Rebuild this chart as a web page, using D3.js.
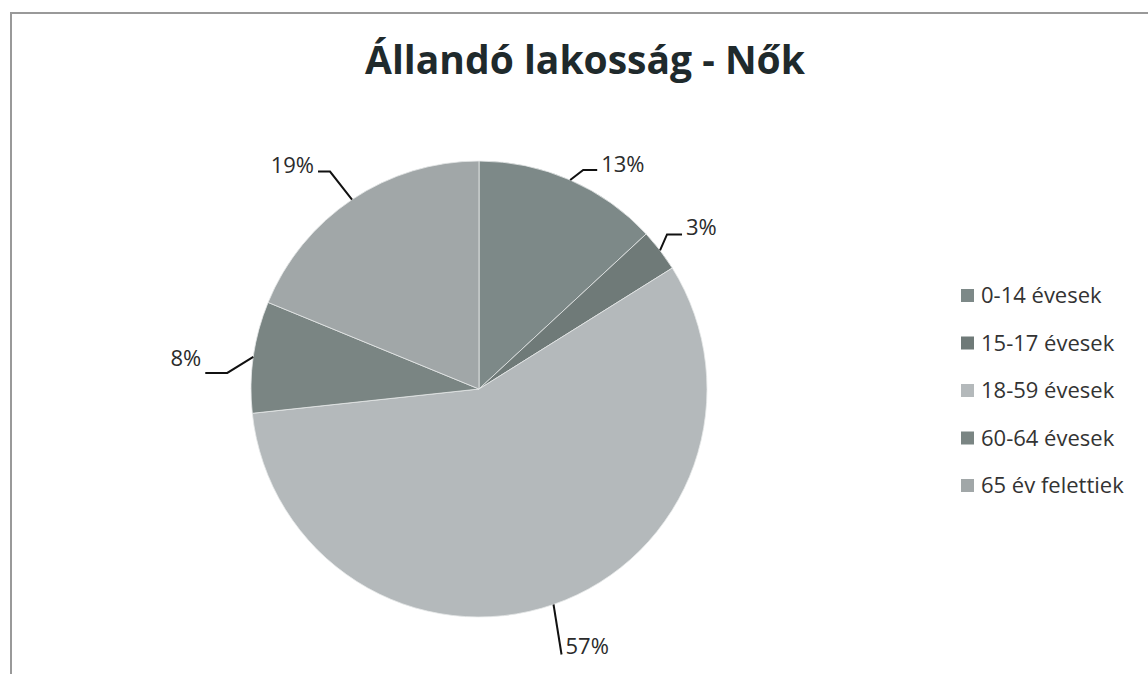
<!DOCTYPE html>
<html>
<head>
<meta charset="utf-8">
<script src="https://cdn.jsdelivr.net/npm/d3@7"></script>
<style>
  body { margin: 0; background: #fff; }
  svg { display: block; }
</style>
</head>
<body>
<div id="chart"></div>
<script>
const title = 'Állandó lakosság - Nők';
const categories = ['0-14 évesek', '15-17 évesek', '18-59 évesek', '60-64 évesek', '65 év felettiek'];
const values = [13.1, 3.0, 57.2, 7.9, 18.8];
const colors = ['#7d8988', '#6f7a78', '#b4b9bb', '#7a8583', '#a1a7a8'];

// leader layout per slice: elbow offset from the rim point, horizontal run, text baseline shift
const labelLayout = [
  { elbow: [13, -10], run: 14, dy: 2 },
  { elbow: [7, -16], run: 15, dy: 1 },
  { elbow: [8, 50], run: 0, dy: 0 },
  { elbow: [-26, 16], run: -22, dy: -7 },
  { elbow: [-22, -28], run: -12, dy: 1 }
];

const width = 1148;
const height = 674;
const cx = 479;
const cy = 389;
const radius = 228;
const font = '"Open Sans", "Noto Sans", sans-serif';

const svg = d3.select('#chart')
  .append('svg')
  .attr('width', width)
  .attr('height', height);

// chart frame (top and left edges visible in the scan)
svg.append('path')
  .attr('d', `M11,${height} L11,13 L${width},13`)
  .attr('fill', 'none')
  .attr('stroke', '#999')
  .attr('stroke-width', 2);

svg.append('text')
  .attr('x', 585)
  .attr('y', 74)
  .attr('text-anchor', 'middle')
  .style('font-family', font)
  .style('font-weight', 700)
  .style('font-size', '39px')
  .attr('fill', '#1f2a2c')
  .text(title);

const total = d3.sum(values);
const pie = d3.pie().sort(null).value(d => d)(values);
const arc = d3.arc().innerRadius(0).outerRadius(radius);
const rim = d3.arc().innerRadius(radius).outerRadius(radius);

const g = svg.append('g')
  .attr('transform', `translate(${cx},${cy})`);

g.selectAll('path.slice')
  .data(pie)
  .enter()
  .append('path')
  .attr('class', 'slice')
  .attr('d', arc)
  .attr('fill', (d, i) => colors[i])
  .attr('stroke', '#e6e9e9')
  .attr('stroke-width', 0.8);

const fmt = d => Math.round(d / total * 100) + '%';

pie.forEach((d, i) => {
  const lay = labelLayout[i];
  const p0 = rim.centroid(d);
  const p1 = [p0[0] + lay.elbow[0], p0[1] + lay.elbow[1]];
  const p2 = [p1[0] + lay.run, p1[1]];
  g.append('path')
    .attr('d', d3.line()([p0, p1, p2]))
    .attr('fill', 'none')
    .attr('stroke', '#111')
    .attr('stroke-width', 2);
  const right = p2[0] >= p0[0];
  g.append('text')
    .attr('x', p2[0] + (right ? 4 : -4))
    .attr('y', p2[1] + lay.dy)
    .attr('text-anchor', right ? 'start' : 'end')
    .style('font-family', font)
    .style('font-size', '22px')
    .attr('fill', '#2b2b2b')
    .text(fmt(d.value));
});

// legend
const legend = svg.append('g')
  .attr('transform', 'translate(961,296)');

const rowY = d3.scalePoint()
  .domain(categories)
  .range([0, 190]);

const rows = legend.selectAll('g.row')
  .data(categories)
  .enter()
  .append('g')
  .attr('class', 'row')
  .attr('transform', d => `translate(0,${rowY(d)})`);

rows.append('rect')
  .attr('x', 0)
  .attr('y', -7)
  .attr('width', 13)
  .attr('height', 13)
  .attr('fill', (d, i) => colors[i]);

rows.append('text')
  .attr('x', 20)
  .attr('y', 7)
  .style('font-family', font)
  .style('font-size', '22px')
  .attr('fill', '#333')
  .text(d => d);
</script>
</body>
</html>
